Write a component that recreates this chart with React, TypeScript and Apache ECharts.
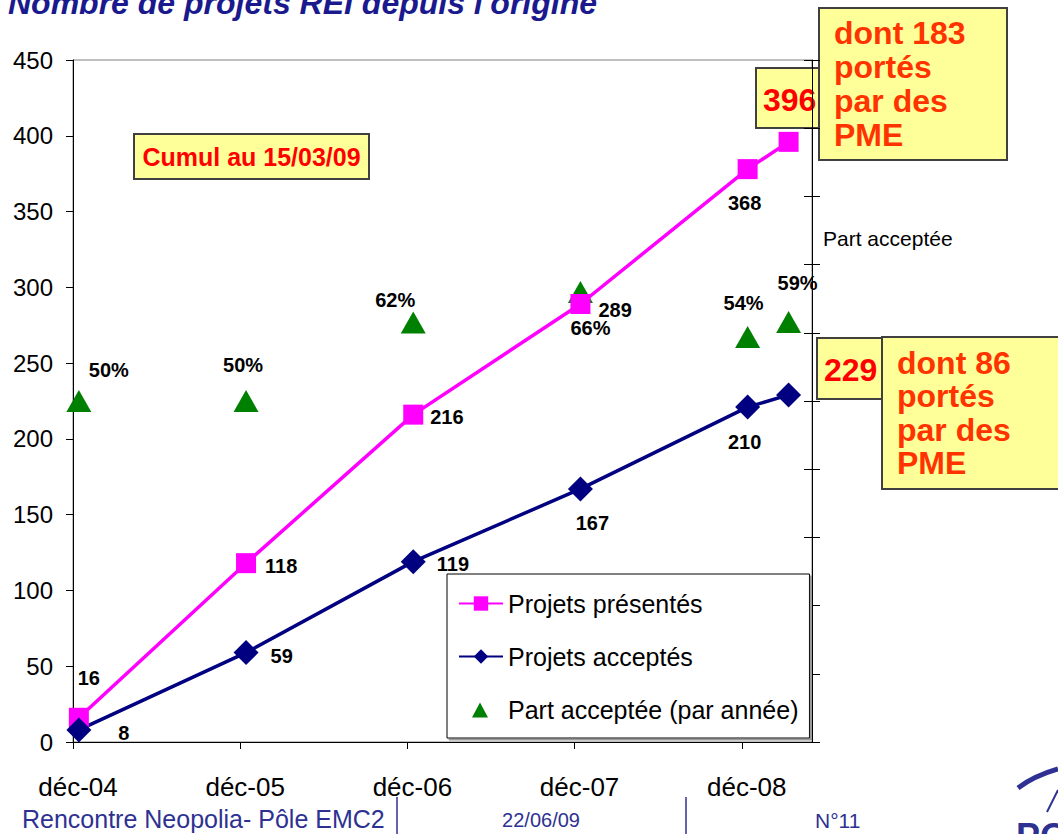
import React, { useEffect, useRef } from 'react';
import * as echarts from 'echarts';

// ---- data ----
const xLabels = ['déc-04', 'déc-05', 'déc-06', 'déc-07', 'déc-08'];
// position of each point, in years counted from déc-04 (last point: 15/03/09)
const pointYears = [0.035, 1.035, 2.035, 3.035, 4.035, 4.28];
const presentes = [16, 118, 216, 289, 378, 396];
const presentesLabels = ['16', '118', '216', '289', '368', ''];
const acceptes = [8, 59, 119, 167, 221, 229];
const acceptesLabels = ['8', '59', '119', '167', '210', ''];
const partAcceptee = [50, 50, 61.5, 66, 59.4, 61.6];
const partLabels = ['50%', '50%', '62%', '66%', '54%', '59%'];

// ---- label placement (style) ----
const presPlace: [string, number[]][] = [
  ['top', [10, -15]], ['right', [4, 3]], ['right', [2, 2]], ['right', [3, 6]], ['bottom', [-3, 9]], ['top', [0, 0]],
];
const accPlace: [string, number[]][] = [
  ['right', [22, 3]], ['right', [7, 3]], ['right', [6, 2]], ['bottom', [12, 7]], ['bottom', [-3, 7]], ['top', [0, 0]],
];
const partPlace: [string, number[]][] = [
  ['top', [30, -5]], ['top', [-3, -10]], ['top', [-18, 3]], ['bottom', [10, 10]], ['top', [-4, -8]], ['top', [9, -13]],
];

const FONT = "'Liberation Sans', Arial, Helvetica, sans-serif";
const labelStyle = { fontSize: 20, fontWeight: 'bold', color: '#000', fontFamily: FONT, opacity: 1 };
// triangle legend icon padded to the full legend icon box so that it is not stretched
const TRIANGLE_ICON = 'path://M0,0L0.01,0L0.01,0.01Z M44,18L43.99,18L43.99,17.99Z M13,17L21,2L29,17Z';

function buildData(vals: number[], labels: string[], place: [string, number[]][]) {
  return vals.map((v, i) => ({
    value: [pointYears[i], v],
    label: {
      show: labels[i] !== '',
      position: place[i][0],
      offset: place[i][1],
      formatter: labels[i],
      ...labelStyle,
    },
  }));
}

export default function App() {
  const ref = useRef<HTMLDivElement>(null);
  useEffect(() => {
    if (!ref.current) return;
    const chart = echarts.init(ref.current, null, { renderer: 'svg' });
    const boxStyle = { fill: '#ffff99', stroke: '#404040', lineWidth: 2 };
    chart.setOption({
      animation: false,
      backgroundColor: '#fff',
      textStyle: { fontFamily: FONT },
      grid: {
        left: 73, right: 246, top: 60, bottom: 92,
        show: true, borderColor: '#808080', borderWidth: 1,
      },
      xAxis: {
        type: 'value', min: 0, max: 4.42, interval: 1,
        axisLine: { lineStyle: { color: '#000', width: 1 } },
        axisTick: { show: true, inside: false, length: 7, lineStyle: { color: '#000' } },
        splitLine: { show: false },
        axisLabel: {
          margin: 32, fontSize: 26, color: '#000', fontFamily: FONT, padding: [0, 0, 0, 10],
          showMaxLabel: false,
          formatter: (v: number) => (Number.isInteger(v) && xLabels[v] ? xLabels[v] : ''),
        },
      },
      yAxis: [
        {
          type: 'value', min: 0, max: 450, interval: 50,
          axisLine: { show: true, lineStyle: { color: '#000', width: 1 } },
          axisTick: { show: true, length: 7, lineStyle: { color: '#000' } },
          splitLine: { show: false },
          axisLabel: { margin: 20, fontSize: 24, color: '#000', fontFamily: FONT },
        },
        {
          type: 'value', min: 0, max: 100, interval: 10, position: 'right',
          axisLine: { show: true, lineStyle: { color: '#000', width: 1 } },
          axisTick: { show: true, length: 8, lineStyle: { color: '#000' } },
          splitLine: { show: false },
          axisLabel: { show: false },
        },
        {
          type: 'value', min: 0, max: 100, interval: 10, position: 'right',
          axisLine: { show: false },
          axisTick: { show: true, inside: true, length: 8, lineStyle: { color: '#000' } },
          splitLine: { show: false },
          axisLabel: { show: false },
        },
      ],
      legend: {
        orient: 'vertical', left: 447, top: 574,
        padding: [17, 11, 16, 11], itemGap: 28, itemWidth: 44, itemHeight: 18,
        backgroundColor: '#fff', borderColor: '#000', borderWidth: 1,
        shadowColor: '#9a9a9a', shadowOffsetX: 2, shadowOffsetY: 2, shadowBlur: 0,
        textStyle: { fontSize: 25, color: '#000', fontFamily: FONT },
        data: [
          { name: 'Projets présentés' },
          { name: 'Projets acceptés' },
          { name: 'Part acceptée (par année)', icon: TRIANGLE_ICON },
        ],
      },
      series: [
        {
          name: 'Projets présentés', type: 'line', yAxisIndex: 0,
          symbol: 'rect', symbolSize: 20,
          itemStyle: { color: '#ff00ff', opacity: 1 },
          lineStyle: { color: '#ff00ff', width: 3.5 },
          data: buildData(presentes, presentesLabels, presPlace),
        },
        {
          name: 'Projets acceptés', type: 'line', yAxisIndex: 0,
          symbol: 'diamond', symbolSize: 25,
          itemStyle: { color: '#000080', opacity: 1 },
          lineStyle: { color: '#000080', width: 3.5 },
          data: buildData(acceptes, acceptesLabels, accPlace),
        },
        {
          name: 'Part acceptée (par année)', type: 'scatter', yAxisIndex: 1,
          symbol: 'triangle', symbolSize: [25, 22],
          itemStyle: { color: '#008000', opacity: 1 },
          data: buildData(partAcceptee, partLabels, partPlace),
        },
      ],
      graphic: {
        elements: [
          {
            type: 'text', x: 8, y: 19,
            style: {
              text: "Nombre de projets REI depuis l'origine",
              fill: '#1a1a8e', fontSize: 32, fontWeight: 'bold', fontStyle: 'italic', fontFamily: FONT,
              textVerticalAlign: 'bottom', verticalAlign: 'bottom',
              textShadowColor: '#9a9ab0', textShadowOffsetX: 2, textShadowOffsetY: 2, textShadowBlur: 0,
            },
          },
          { type: 'rect', shape: { x: 134, y: 134, width: 235, height: 45 }, style: boxStyle },
          {
            type: 'text', x: 251.5, y: 157,
            style: {
              text: 'Cumul au 15/03/09', fill: '#ff0000', fontSize: 25, fontWeight: 'bold', fontFamily: FONT,
              textAlign: 'center', textVerticalAlign: 'middle', verticalAlign: 'middle',
            },
          },
          { type: 'rect', shape: { x: 756, y: 68, width: 70, height: 60 }, style: boxStyle },
          {
            type: 'text', x: 763, y: 100,
            style: {
              text: '396', fill: '#ff0000', fontSize: 32, fontWeight: 'bold', fontFamily: FONT,
              textAlign: 'left', textVerticalAlign: 'middle', verticalAlign: 'middle',
            },
          },
          { type: 'rect', shape: { x: 819, y: 8, width: 188, height: 152 }, style: boxStyle },
          {
            type: 'text', x: 834, y: 16,
            style: {
              text: 'dont 183\nportés\npar des\nPME', fill: '#ff3300', fontSize: 32, fontWeight: 'bold',
              fontFamily: FONT, lineHeight: 34, textAlign: 'left', textVerticalAlign: 'top', verticalAlign: 'top',
            },
          },
          { type: 'rect', shape: { x: 817, y: 338, width: 70, height: 61 }, style: boxStyle },
          {
            type: 'text', x: 824, y: 370,
            style: {
              text: '229', fill: '#ff0000', fontSize: 32, fontWeight: 'bold', fontFamily: FONT,
              textAlign: 'left', textVerticalAlign: 'middle', verticalAlign: 'middle',
            },
          },
          { type: 'rect', shape: { x: 882, y: 337, width: 190, height: 152 }, style: boxStyle },
          {
            type: 'text', x: 897, y: 346,
            style: {
              text: 'dont 86\nportés\npar des\nPME', fill: '#ff3300', fontSize: 32, fontWeight: 'bold',
              fontFamily: FONT, lineHeight: 33.5, textAlign: 'left', textVerticalAlign: 'top', verticalAlign: 'top',
            },
          },
          {
            type: 'text', x: 823, y: 238,
            style: {
              text: 'Part acceptée', fill: '#000', fontSize: 21, fontFamily: FONT,
              textAlign: 'left', textVerticalAlign: 'middle', verticalAlign: 'middle',
            },
          },
          // footer
          {
            type: 'text', x: 22, y: 819,
            style: {
              text: 'Rencontre Neopolia- Pôle EMC2', fill: '#2e3192', fontSize: 25, fontFamily: FONT,
              textAlign: 'left', textVerticalAlign: 'middle', verticalAlign: 'middle',
            },
          },
          { type: 'line', shape: { x1: 397, y1: 797, x2: 397, y2: 834 }, style: { stroke: '#2e3192', lineWidth: 1.5 } },
          {
            type: 'text', x: 541, y: 820,
            style: {
              text: '22/06/09', fill: '#2e3192', fontSize: 20, fontFamily: FONT,
              textAlign: 'center', textVerticalAlign: 'middle', verticalAlign: 'middle',
            },
          },
          { type: 'line', shape: { x1: 686, y1: 797, x2: 686, y2: 834 }, style: { stroke: '#2e3192', lineWidth: 1.5 } },
          {
            type: 'text', x: 815, y: 820,
            style: {
              text: 'N°11', fill: '#2e3192', fontSize: 21, fontFamily: FONT,
              textAlign: 'left', textVerticalAlign: 'middle', verticalAlign: 'middle',
            },
          },
          // logo fragment
          {
            type: 'bezierCurve',
            shape: { x1: 1018, y1: 788, x2: 1058, y2: 769, cpx1: 1034, cpy1: 776 },
            style: { stroke: '#2e3192', lineWidth: 5, fill: 'none' },
          },
          { type: 'line', shape: { x1: 1047, y1: 812, x2: 1058, y2: 790 }, style: { stroke: '#2e3192', lineWidth: 2 } },
          {
            type: 'text', x: 1016, y: 818,
            style: {
              text: 'PO', fill: '#2e3192', fontSize: 36, fontWeight: 'bold', fontFamily: FONT,
              textAlign: 'left', textVerticalAlign: 'top', verticalAlign: 'top',
            },
          },
        ],
      },
    });
    return () => chart.dispose();
  }, []);
  return (
    <div
      ref={ref}
      style={{ position: 'fixed', left: 0, top: 0, width: 1058, height: 834, background: '#fff' }}
    />
  );
}
